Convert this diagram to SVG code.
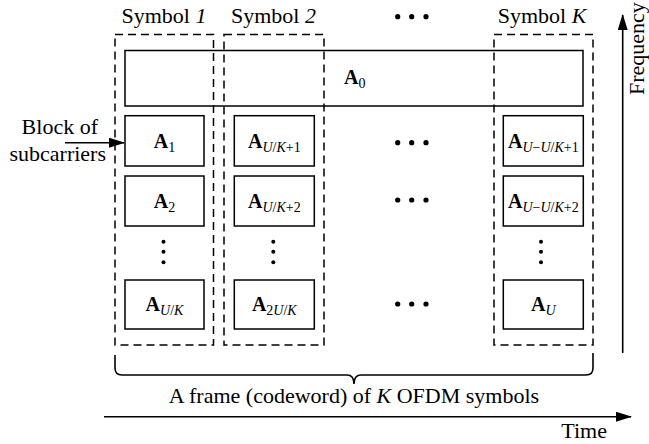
<svg xmlns="http://www.w3.org/2000/svg" width="649" height="444" viewBox="0 0 649 444">
<style>
  text { font-family: "Liberation Serif", "Times New Roman", serif; fill: #000; }
  .lbl { font-size: 22px; }
  .cell { fill: #fff; stroke: #000; stroke-width: 1.5; }
  .dash { fill: none; stroke: #000; stroke-width: 1.5; stroke-dasharray: 8 5; }
  .A { font-size: 20px; font-weight: bold; }
  .sub { font-size: 14px; font-weight: normal; }
  .it { font-style: italic; }
  .line { fill: none; stroke: #000; stroke-width: 1.6; }
  .dot { fill: #000; }
</style>
<defs>
  <marker id="ah" viewBox="0 0 16 10" refX="15" refY="5" markerWidth="16" markerHeight="10" markerUnits="userSpaceOnUse" orient="auto">
    <path d="M0,0 L16,5 L0,10 Z" fill="#000"/>
  </marker>
</defs>

<g id="symbol1">
  <rect class="dash" x="115" y="34.5" width="98.5" height="310.5"/>
  <text class="lbl" x="164" y="23" text-anchor="middle">Symbol <tspan class="it">1</tspan></text>
</g>
<g id="symbol2">
  <rect class="dash" x="224" y="34.5" width="100" height="310.5"/>
  <text class="lbl" x="273.5" y="23" text-anchor="middle">Symbol <tspan class="it">2</tspan></text>
</g>
<g id="symbolK">
  <rect class="dash" x="494" y="34.5" width="99" height="310.5"/>
  <text class="lbl" x="542" y="23" text-anchor="middle">Symbol <tspan class="it">K</tspan></text>
</g>

<g id="A0">
  <rect class="cell" fill-opacity="0" x="125" y="50.5" width="458" height="55.5"/>
  <text class="A" x="344" y="84">A<tspan class="sub" dy="4">0</tspan></text>
</g>

<g id="A1">
  <rect class="cell" x="125" y="115.7" width="79" height="50.3"/>
  <text class="A" x="164.5" y="148" text-anchor="middle">A<tspan class="sub" dy="4">1</tspan></text>
</g>
<g id="A2">
  <rect class="cell" x="125" y="176" width="79" height="50"/>
  <text class="A" x="164.5" y="208" text-anchor="middle">A<tspan class="sub" dy="4">2</tspan></text>
</g>
<g id="AUK">
  <rect class="cell" x="125" y="280" width="79" height="49"/>
  <text class="A" x="164.5" y="311" text-anchor="middle">A<tspan class="sub it" dy="4">U</tspan><tspan class="sub">/</tspan><tspan class="sub it">K</tspan></text>
</g>

<g id="AUK1">
  <rect class="cell" x="234.3" y="115.7" width="80" height="50.3"/>
  <text class="A" x="274.3" y="148" text-anchor="middle">A<tspan class="sub it" dy="4">U</tspan><tspan class="sub">/</tspan><tspan class="sub it">K</tspan><tspan class="sub">+1</tspan></text>
</g>
<g id="AUK2">
  <rect class="cell" x="234.3" y="176" width="80" height="50"/>
  <text class="A" x="274.3" y="208" text-anchor="middle">A<tspan class="sub it" dy="4">U</tspan><tspan class="sub">/</tspan><tspan class="sub it">K</tspan><tspan class="sub">+2</tspan></text>
</g>
<g id="A2UK">
  <rect class="cell" x="234.3" y="280" width="80" height="49"/>
  <text class="A" x="274.3" y="311" text-anchor="middle">A<tspan class="sub" dy="4">2</tspan><tspan class="sub it">U</tspan><tspan class="sub">/</tspan><tspan class="sub it">K</tspan></text>
</g>

<g id="AUUK1">
  <rect class="cell" x="503.3" y="115.7" width="80" height="50.3"/>
  <text class="A" x="543.3" y="148" text-anchor="middle">A<tspan class="sub it" dy="4">U</tspan><tspan class="sub">−</tspan><tspan class="sub it">U</tspan><tspan class="sub">/</tspan><tspan class="sub it">K</tspan><tspan class="sub">+1</tspan></text>
</g>
<g id="AUUK2">
  <rect class="cell" x="503.3" y="176" width="80" height="50"/>
  <text class="A" x="543.3" y="208" text-anchor="middle">A<tspan class="sub it" dy="4">U</tspan><tspan class="sub">−</tspan><tspan class="sub it">U</tspan><tspan class="sub">/</tspan><tspan class="sub it">K</tspan><tspan class="sub">+2</tspan></text>
</g>
<g id="AU">
  <rect class="cell" x="503.3" y="280" width="80" height="49"/>
  <text class="A" x="543.3" y="311" text-anchor="middle">A<tspan class="sub it" dy="4">U</tspan></text>
</g>

<g id="ellipses">
  <circle class="dot" cx="397.7" cy="16.7" r="2.6"/><circle class="dot" cx="411.7" cy="16.7" r="2.6"/><circle class="dot" cx="426" cy="16.7" r="2.6"/>
  <circle class="dot" cx="397.7" cy="142.7" r="2.6"/><circle class="dot" cx="411.7" cy="142.7" r="2.6"/><circle class="dot" cx="426" cy="142.7" r="2.6"/>
  <circle class="dot" cx="397.7" cy="200" r="2.6"/><circle class="dot" cx="411.7" cy="200" r="2.6"/><circle class="dot" cx="426" cy="200" r="2.6"/>
  <circle class="dot" cx="397.7" cy="304" r="2.6"/><circle class="dot" cx="411.7" cy="304" r="2.6"/><circle class="dot" cx="426" cy="304" r="2.6"/>
  <circle class="dot" cx="163.5" cy="241.7" r="2"/><circle class="dot" cx="163.5" cy="251.7" r="2"/><circle class="dot" cx="163.5" cy="262.3" r="2"/>
  <circle class="dot" cx="273.3" cy="241.7" r="2"/><circle class="dot" cx="273.3" cy="251.7" r="2"/><circle class="dot" cx="273.3" cy="262.3" r="2"/>
  <circle class="dot" cx="541" cy="241.7" r="2"/><circle class="dot" cx="541" cy="251.7" r="2"/><circle class="dot" cx="541" cy="262.3" r="2"/>
</g>

<g id="block-label">
  <text class="lbl" x="98" y="134" text-anchor="end">Block of</text>
  <text class="lbl" x="106" y="161" text-anchor="end">subcarriers</text>
</g>

<g id="frame-label">
  <text class="lbl" x="354" y="403" text-anchor="middle">A frame (codeword) of <tspan class="it">K</tspan> OFDM symbols</text>
</g>
<g id="time-label">
  <text class="lbl" x="607" y="438" text-anchor="end">Time</text>
</g>
<g id="freq-label">
  <text class="lbl" transform="translate(644,95) rotate(-90)">Frequency</text>
</g>

<g id="connectors">
  <line class="line" x1="65" y1="142.7" x2="124" y2="142.7" marker-end="url(#ah)"/>
  <line class="line" x1="622.7" y1="353" x2="622.7" y2="15" marker-end="url(#ah)"/>
  <line class="line" x1="104" y1="416.7" x2="631" y2="416.7" stroke-width="2" marker-end="url(#ah)"/>
  <path class="line" d="M115,355 L115,368 Q115,375 122,375 L347,375 Q354,375 354,384 Q354,375 361,375 L586,375 Q593,375 593,368 L593,353"/>
</g>
</svg>
